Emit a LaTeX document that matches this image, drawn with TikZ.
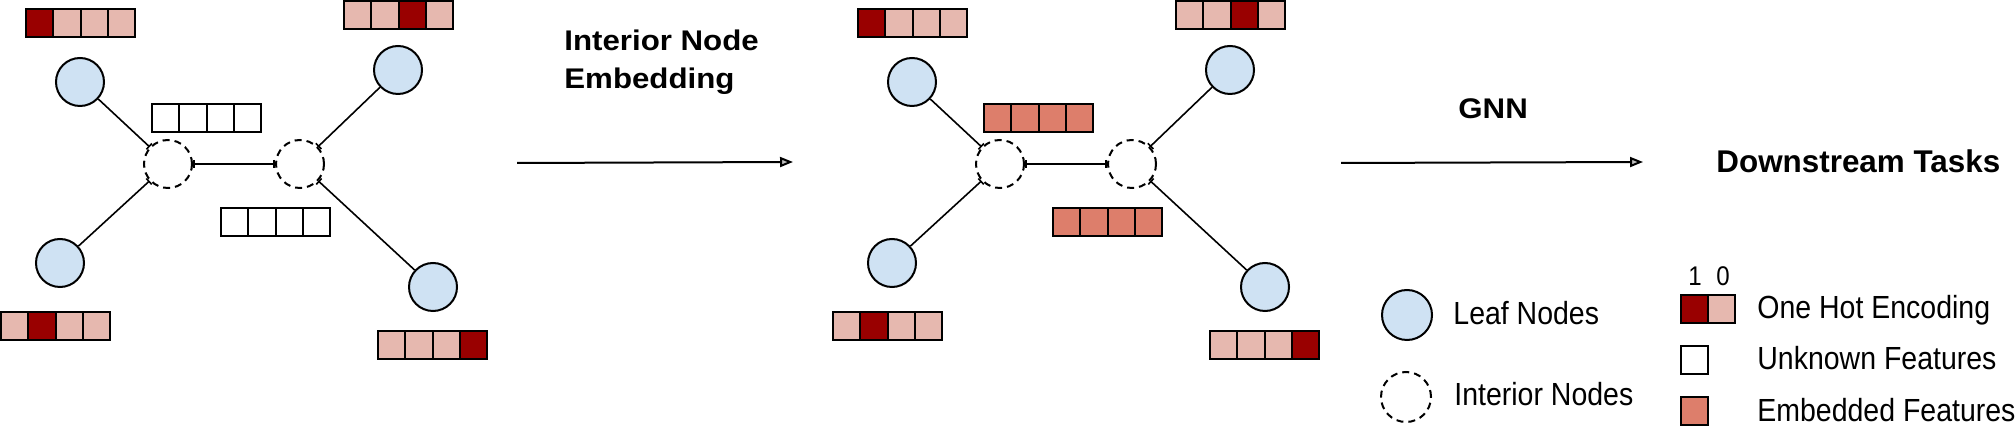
\documentclass[tikz,border=0pt]{standalone}
\usepackage{fontspec}
\setmainfont{Liberation Sans}
\newfontfamily\legfont{Liberation Sans}[FakeStretch=0.89]
\newfontfamily\headfont{Liberation Sans}[FakeStretch=1.1]
\usetikzlibrary{arrows.meta}
\definecolor{hot}{HTML}{990000}
\definecolor{cold}{HTML}{E6B8AF}
\definecolor{emb}{HTML}{DD7E6B}
\definecolor{leafblue}{HTML}{CFE2F3}
\tikzset{
 leafnode/.style={circle, draw, line width=1pt, fill=leafblue, minimum size=24pt, inner sep=0pt},
 innernode/.style={circle, draw, line width=1pt, dash pattern=on 3.5pt off 2.5pt, minimum size=24pt, inner sep=0pt, fill=white},
 cell/.style={draw, line width=1pt, minimum width=13.65pt, minimum height=13.85pt, inner sep=0pt, outer sep=0pt, anchor=north west},
 edgeline/.style={line width=0.8pt},
 tickend/.style={-{Bar[width=4pt,line width=0.8pt]}},
 flow/.style={line width=1pt, -{Triangle[length=6.5pt,width=5pt,fill=gray!50]}},
 legtext/.style={font=\legfont\fontsize{16pt}{19pt}\selectfont, anchor=base west, inner sep=0pt},
 head/.style={font=\headfont\bfseries\fontsize{14.2pt}{19pt}\selectfont, anchor=base west, inner sep=0pt, align=left},
}
\newcommand\fbar[4]{%
  \foreach \cc [count=\i from 0] in {#4} {
    \node[cell, fill=\cc] (#1-\i) at ({#2+\i*27.3},{#3}) {};
  }}
\newcommand\treegraph[3]{%
 \begin{scope}[shift={(#2,0)}]
  \node[leafnode] (#1tl) at (80,82) {};
  \node[leafnode] (#1tr) at (398,70) {};
  \node[leafnode] (#1bl) at (60,263) {};
  \node[leafnode] (#1br) at (433,287) {};
  \node[innernode] (#1il) at (168,164) {};
  \node[innernode] (#1ir) at (300,164) {};
  \fbar{#1ftl}{26}{9}{hot,cold,cold,cold}
  \fbar{#1ftr}{344}{1}{cold,cold,hot,cold}
  \fbar{#1fbl}{1}{312}{cold,hot,cold,cold}
  \fbar{#1fbr}{378}{331}{cold,cold,cold,hot}
  \fbar{#1fit}{152}{104}{#3,#3,#3,#3}
  \fbar{#1fib}{221}{208}{#3,#3,#3,#3}
  \draw[edgeline, tickend] (#1tl) -- (#1il);
  \draw[edgeline, tickend] (#1bl) -- (#1il);
  \draw[edgeline, tickend] (#1tr) -- (#1ir);
  \draw[edgeline, tickend] (#1br) -- (#1ir);
  \draw[edgeline, {Bar[width=4pt,line width=0.8pt]}-{Bar[width=4pt,line width=0.8pt]}] (#1il) -- (#1ir);
 \end{scope}}
\begin{document}
\begin{tikzpicture}[x=0.5pt, y=-0.5pt]
\useasboundingbox (0,0) rectangle (2016,426);
\treegraph{L}{0}{white}
\treegraph{M}{832}{emb}
% arrows and labels
\coordinate (a1s) at (517,163);
\coordinate (a1e) at (793,162);
\draw[flow] (a1s) -- (a1e);
\node[head] (ine) at (564,89) {Interior Node\\Embedding};
\coordinate (a2s) at (1341,163);
\coordinate (a2e) at (1643,162);
\draw[flow] (a2s) -- (a2e);
\node[head] (gnn) at (1458,119) {GNN};
\node[font=\bfseries\fontsize{15.7pt}{19pt}\selectfont, anchor=base west, inner sep=0pt] (down) at (1716,173) {Downstream Tasks};
% legend
\node[leafnode, minimum size=25pt] (lgleaf) at (1407,315) {};
\node[legtext] (lgleaft) at (1453,325) {Leaf Nodes};
\node[innernode, minimum size=25pt] (lginner) at (1406,397) {};
\node[legtext] (lginnert) at (1454,406) {Interior Nodes};
\node[cell, fill=hot, minimum width=13.5pt] (oh1) at (1681,295) {};
\node[cell, fill=cold, minimum width=13.5pt] (oh0) at (1708,295) {};
\node[font=\legfont\fontsize{13.5pt}{15pt}\selectfont, anchor=base, inner sep=0pt] (one) at (1695,286) {1};
\node[font=\legfont\fontsize{13.5pt}{15pt}\selectfont, anchor=base, inner sep=0pt] (zero) at (1723,286) {0};
\node[legtext] (oht) at (1757,319) {One Hot Encoding};
\node[cell, fill=white, minimum width=13.5pt] (unk) at (1681,346) {};
\node[legtext] (unkt) at (1757,370) {Unknown Features};
\node[cell, fill=emb, minimum width=13.5pt] (embb) at (1681,397) {};
\node[legtext] (embt) at (1757,422) {Embedded Features};
\end{tikzpicture}
\end{document}
